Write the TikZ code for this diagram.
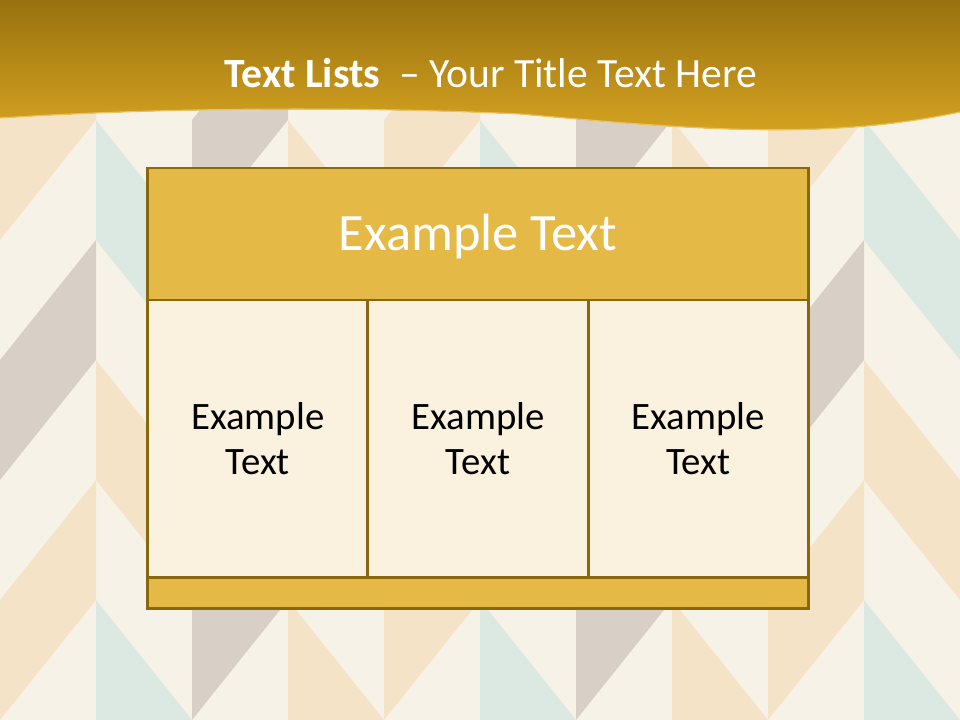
\documentclass[tikz,border=0pt]{standalone}
\usepackage{fontspec}
\setmainfont{Carlito}
\usetikzlibrary{positioning}
\definecolor{PaperBg}{HTML}{F7F2E7}
\definecolor{BandPeach}{HTML}{F4E3C6}
\definecolor{BandGray}{HTML}{D8D0C7}
\definecolor{BandTeal}{HTML}{DCE8E2}
\definecolor{HeadTop}{HTML}{98720F}
\definecolor{HeadBot}{HTML}{DAA622}
\definecolor{HeadEdge}{HTML}{EBC25A}
\definecolor{BoxGold}{HTML}{E5B946}
\definecolor{CellFill}{HTML}{FAF1DE}
\definecolor{BoxLine}{HTML}{89670F}

\begin{document}
\begin{tikzpicture}[
  x=0.025cm, y=-0.025cm,
  goldbox/.style={draw=BoxLine, fill=BoxGold, line width=2.1pt, outer sep=0pt, inner sep=0pt, minimum width=16.5cm, align=center},
  cellbox/.style={draw=BoxLine, fill=CellFill, line width=2.1pt, outer sep=0pt, inner sep=0pt, minimum width=5.5cm, minimum height=6.925cm, align=center, font=\fontsize{27.6}{32}\selectfont}
]
\useasboundingbox (0,0) rectangle (960,720);
% paper and chevron bands
\fill[PaperBg] (0,0) rectangle (960,720);
\begin{scope}
\clip (0,0) rectangle (960,720);
\foreach \col/\s/\ca/\cb in {0/-1/BandPeach/BandGray, 1/1/BandTeal/BandPeach, 2/-1/BandGray/BandPeach, 3/1/BandPeach/BandTeal, 4/-1/BandPeach/BandGray, 5/1/BandTeal/BandPeach, 6/-1/BandGray/BandPeach, 7/1/BandPeach/BandTeal, 8/-1/BandPeach/BandGray, 9/1/BandTeal/BandPeach}{
  \foreach \k/\c in {0/\ca, 1/\cb, 2/\ca}{
    \fill[fill=\c] ({96*\col},{120+240*\k}) -- ({96*\col},{240+240*\k}) -- ({96*\col+96},{240+240*\k+120*\s}) -- ({96*\col+96},{120+240*\k+120*\s}) -- cycle;
  }
}
\end{scope}
% title band
\fill[top color=HeadTop, bottom color=HeadBot] (0,0) -- (960,0) -- (960,112) .. controls (820,142) and (680,128) .. (520,114) .. controls (350,106) and (150,108) .. (0,118) -- cycle;
\draw[HeadEdge, line width=0.8pt] (960,112) .. controls (820,142) and (680,128) .. (520,114) .. controls (350,106) and (150,108) .. (0,118);
\node[anchor=base, text=white, font=\fontsize{29.6}{35}\selectfont] (title) at (491,88) {\textbf{Text Lists}~~– Your Title Text Here};

% table
\node[goldbox, minimum height=3.3cm, text=white, font=\fontsize{37.3}{44}\selectfont, text depth=0.3em] (head) at (478,234) {Example Text};
\node[cellbox, below=0pt of head] (midcell) {Example\\Text};
\node[cellbox, left=0pt of midcell] (leftcell) {Example\\Text};
\node[cellbox, right=0pt of midcell] (rightcell) {Example\\Text};
\node[goldbox, minimum height=0.775cm, below=0pt of midcell] (foot) {};
\end{tikzpicture}
\end{document}
